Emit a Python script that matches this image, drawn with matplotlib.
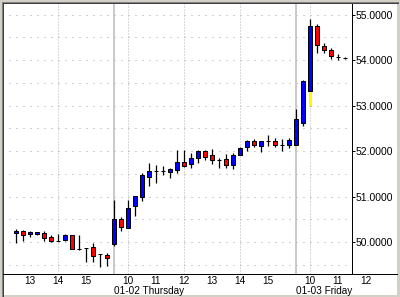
import matplotlib
matplotlib.use('Agg')
import matplotlib.pyplot as plt
from matplotlib.patches import Rectangle
from matplotlib.lines import Line2D
import numpy as np

plt.rcParams['font.family'] = ['Liberation Sans', 'DejaVu Sans']

# sessions: label, first bar time, number of 15 min bars, hour labels
day_labels = ["", "01-02 Thursday", "01-03 Friday"]
day_start = ["12:30", "09:30", "09:30"]
day_bars = [14, 26, 8]
day_hours = [[13, 14, 15], [10, 11, 12, 13, 14, 15], [10, 11, 12]]

opens = [50.20, 50.24, 50.17, 50.19, 50.195, 50.115, 50.03, 50.04, 50.15, 49.86, 49.87, 49.89, 49.73, 49.72,
         49.97, 50.52, 50.32, 50.80, 51.00, 51.44, 51.57, 51.57, 51.545, 51.59, 51.755, 51.71, 51.84,
         52.00, 51.91, 51.815, 51.82, 51.69, 51.91, 52.10, 52.215, 52.11, 52.225, 52.215, 52.145, 52.14,
         52.14, 52.63, 53.32, 54.745, 54.305, 54.215, 54.075, 54.055]
highs = [50.29, 50.26, 50.25, 50.22, 50.245, 50.15, 50.18, 50.19, 50.15, 50.15, 49.87, 49.98, 49.73, 49.77,
         50.93, 50.55, 50.93, 51.01, 51.51, 51.74, 51.70, 51.68, 51.63, 52.03, 52.03, 51.97, 52.03,
         52.03, 52.05, 51.84, 51.94, 51.95, 52.10, 52.25, 52.26, 52.22, 52.36, 52.28, 52.26, 52.28,
         52.93, 53.565, 54.905, 54.79, 54.37, 54.26, 54.14, 54.08]
lows = [49.99, 50.03, 50.11, 50.16, 50.03, 50.00, 50.02, 50.02, 49.84, 49.83, 49.57, 49.565, 49.46, 49.48,
        49.92, 50.25, 50.32, 50.58, 50.90, 51.24, 51.31, 51.47, 51.42, 51.53, 51.66, 51.62, 51.75,
        51.81, 51.71, 51.62, 51.62, 51.60, 51.91, 52.01, 52.085, 51.98, 52.11, 52.085, 52.00, 52.08,
        52.14, 52.56, 53.00, 54.165, 54.165, 54.02, 54.00, 54.03]
closes = [50.245, 50.15, 50.22, 50.215, 50.10, 50.02, 50.03, 50.16, 49.84, 49.86, 49.865, 49.70, 49.73, 49.65,
          50.50, 50.33, 50.745, 51.01, 51.48, 51.565, 51.57, 51.57, 51.60, 51.755, 51.67, 51.845, 52.00,
          51.87, 51.815, 51.815, 51.69, 51.91, 52.06, 52.215, 52.13, 52.215, 52.225, 52.13, 52.145, 52.24,
          52.71, 53.54, 54.745, 54.335, 54.22, 54.09, 54.075, 54.055]
yellow_low = [42]

price_ticks = [50, 51, 52, 53, 54, 55]

W, H = 400, 297
fig = plt.figure(figsize=(W / 100, H / 100), dpi=100)
fig.patch.set_facecolor('#d4d0c8')

def fx(px):
    return px / W

def fy(py):
    return 1 - py / H

fig.add_artist(Rectangle((fx(3), fy(295)), 394 / W, 292 / H, transform=fig.transFigure,
                         facecolor='white', edgecolor='none', zorder=0))
for px, col in [(1.5, '#808080'), (2.5, '#404040')]:
    fig.add_artist(Line2D([fx(px), fx(px)], [fy(px), fy(296)], color=col, lw=0.72))
    fig.add_artist(Line2D([fx(px), fx(398)], [fy(px), fy(px)], color=col, lw=0.72))
fig.add_artist(Line2D([fx(399.5)] * 2, [fy(0), fy(297)], color='white', lw=0.72))
fig.add_artist(Line2D([fx(0), fx(400)], [fy(296.5)] * 2, color='white', lw=0.72))

ax = fig.add_axes([fx(3), fy(274), 349 / W, 271 / H])
ax.set_facecolor('white')
ax.set_xlim(-13 / 7, 48)
ax.set_ylim(49.301, 55.257)

for s in ['top', 'left', 'bottom']:
    ax.spines[s].set_visible(False)
ax.spines['right'].set_color('black')
ax.spines['right'].set_linewidth(0.72)
fig.add_artist(Line2D([fx(3), fx(397)], [fy(274)] * 2, color='black', lw=0.72))

# time positions
offsets = np.cumsum([0] + day_bars[:-1])
def to_min(t):
    h, m = t.split(':')
    return int(h) * 60 + int(m)

for v in np.arange(49.5, 55.01, 0.5):
    ax.axhline(v, color='#a0a0a0', lw=0.72, ls=(1, (1, 6)), zorder=0)

for d in range(len(day_bars)):
    for h in day_hours[d]:
        pos = offsets[d] + (h * 60 - to_min(day_start[d])) / 15
        ax.text(pos, -0.0362, str(h), transform=ax.get_xaxis_transform(), ha='center',
                va='baseline', fontsize=7.2, clip_on=False)
        if h % 2 == 0 and pos < 48:
            ax.axvline(pos, color='#b4b4b4', lw=0.72, ls=(0, (1, 2)), zorder=0)
    if d > 0:
        ax.axvline(offsets[d], color='#c0c0c0', lw=1.2, zorder=1)
        ax.text(offsets[d], -0.0720, day_labels[d], transform=ax.get_xaxis_transform(),
                ha='left', va='baseline', fontsize=7.2, clip_on=False)

x = np.arange(len(opens))
o = np.array(opens)
c = np.array(closes)
ax.vlines(x, lows, highs, color='black', lw=0.9, zorder=2)
for i in yellow_low:
    ax.vlines(i, lows[i], min(o[i], c[i]), color='#ffff00', lw=1.0, zorder=2.5)

colors = ['#0000ff' if cc > oo else ('#ff0000' if cc < oo else 'black') for oo, cc in zip(o, c)]
ax.bar(x, np.abs(c - o), bottom=np.minimum(o, c), width=0.62, color=colors,
       edgecolor='black', lw=0.72, zorder=3)

ax.set_xticks([])
ax.yaxis.tick_right()
ax.set_yticks(price_ticks)
ax.set_yticklabels([f"{v:.4f}" for v in price_ticks])
ax.tick_params(axis='y', length=2, width=0.72, pad=0.5, labelsize=7.5, colors='black')

fig.savefig('out.png', dpi=100, facecolor=fig.get_facecolor())
